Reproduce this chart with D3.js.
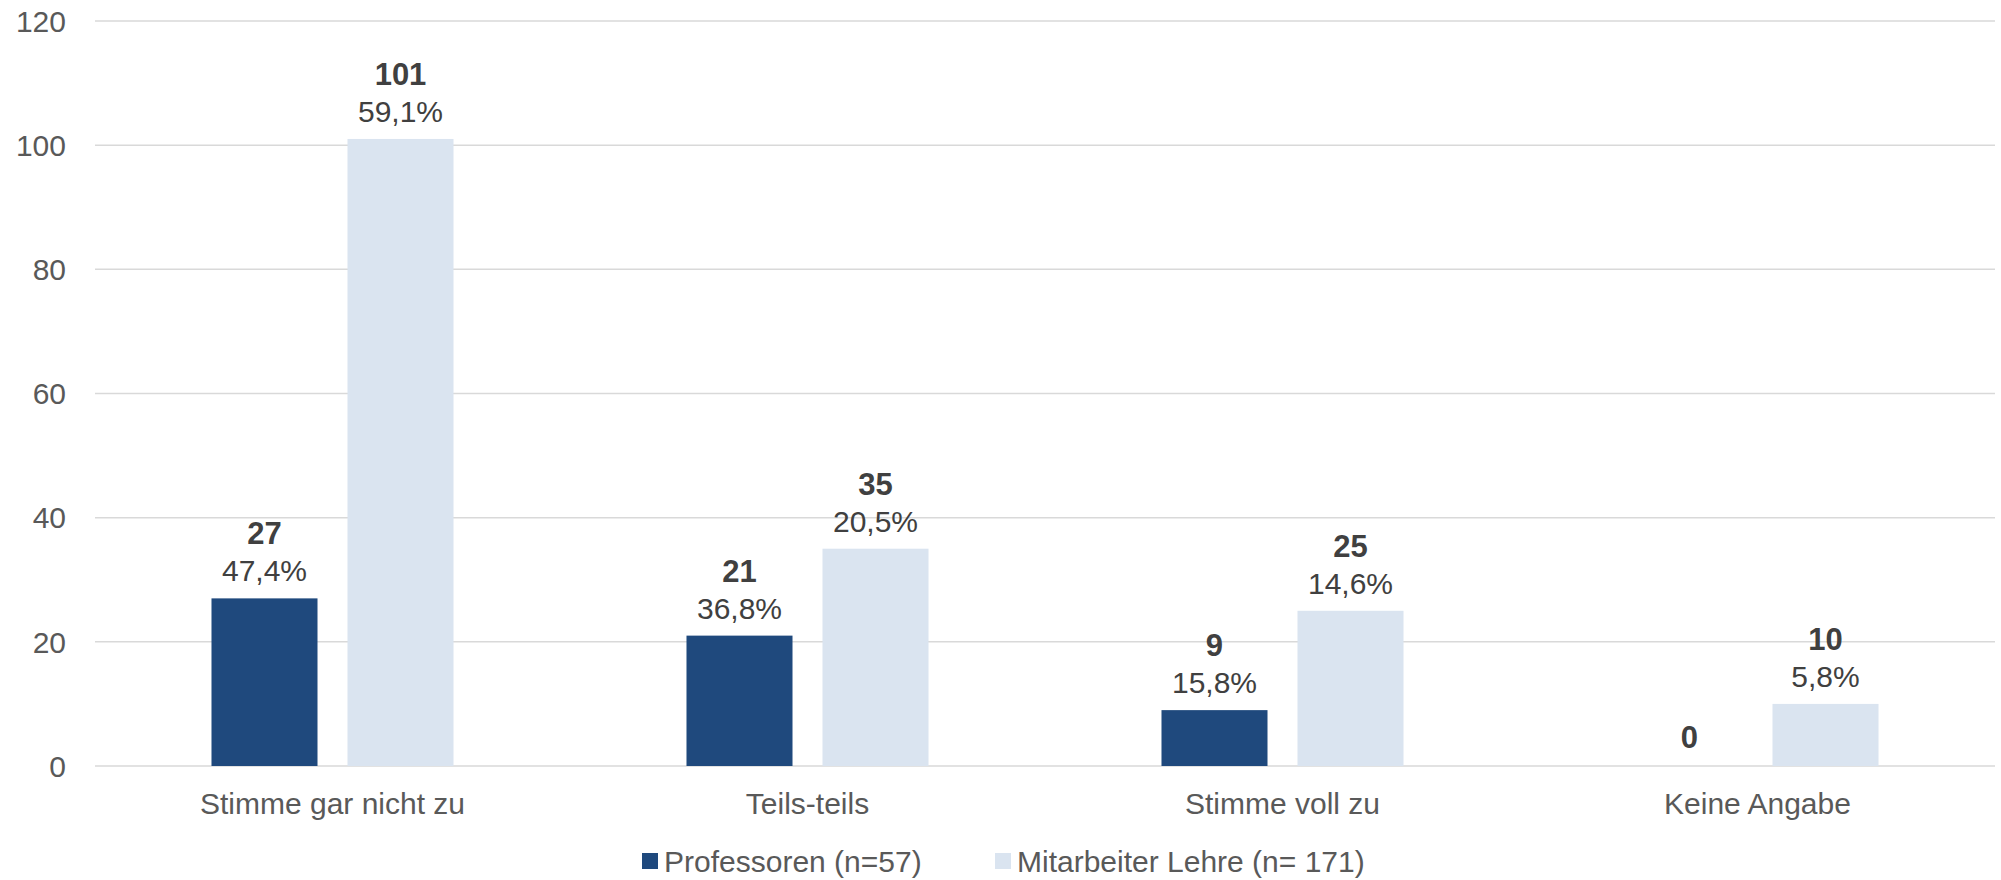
<!DOCTYPE html>
<html lang="de">
<head>
    <meta charset="UTF-8">
    <title>Zustimmung nach Gruppe</title>
    <script src="https://d3js.org/d3.v7.min.js"></script>
    <style>
        body {
            margin: 0;
            background: #ffffff;
            font-family: "Liberation Sans", Arial, sans-serif;
        }
        .tick-label {
            font-size: 30px;
            fill: #595959;
        }
        .value-label {
            font-size: 31px;
            font-weight: bold;
            fill: #404040;
            text-anchor: middle;
        }
        .pct-label {
            font-size: 30px;
            fill: #404040;
            text-anchor: middle;
        }
    </style>
</head>
<body>
    <div id="chart"></div>
    <script>
        // data
        const categories = ["Stimme gar nicht zu", "Teils-teils", "Stimme voll zu", "Keine Angabe"];
        const seriesNames = ["Professoren (n=57)", "Mitarbeiter Lehre (n= 171)"];
        const professoren = [27, 21, 9, 0];
        const mitarbeiter = [101, 35, 25, 10];
        const professorenPct = ["47,4%", "36,8%", "15,8%", ""];
        const mitarbeiterPct = ["59,1%", "20,5%", "14,6%", "5,8%"];
        const yTicks = [0, 20, 40, 60, 80, 100, 120];

        const colors = ["#1F497D", "#DAE4F0"];

        const width = 2001;
        const height = 880;
        const margin = {left: 95, right: 6, top: 21, bottom: 114};

        const series = [
            {name: seriesNames[0], values: professoren, pct: professorenPct},
            {name: seriesNames[1], values: mitarbeiter, pct: mitarbeiterPct}
        ];

        const svg = d3.select("#chart").append("svg")
            .attr("width", width)
            .attr("height", height);

        const x0 = d3.scaleBand()
            .domain(categories)
            .range([margin.left, width - margin.right])
            .paddingInner(0.4905)
            .paddingOuter(0.4905 / 2);

        const x1 = d3.scaleBand()
            .domain(seriesNames)
            .range([0, x0.bandwidth()])
            .paddingInner(0.2206);

        const y = d3.scaleLinear()
            .domain([0, 120])
            .range([height - margin.bottom, margin.top]);

        // gridlines
        svg.append("g")
            .selectAll("line")
            .data(yTicks)
            .enter().append("line")
            .attr("x1", margin.left)
            .attr("x2", width - margin.right)
            .attr("y1", d => y(d))
            .attr("y2", d => y(d))
            .style("stroke", "#D9D9D9")
            .style("stroke-width", 1.5);

        // y axis labels
        svg.append("g")
            .selectAll("text")
            .data(yTicks)
            .enter().append("text")
            .attr("class", "tick-label")
            .attr("x", 66)
            .attr("y", d => y(d))
            .attr("dy", "0.36em")
            .attr("text-anchor", "end")
            .text(d => d);

        // bars
        const groups = svg.append("g")
            .selectAll("g")
            .data(categories)
            .enter().append("g")
            .attr("transform", d => "translate(" + x0(d) + ",0)");

        groups.selectAll("rect")
            .data((d, i) => series.map((s, k) => ({name: s.name, value: s.values[i], pct: s.pct[i], k: k})))
            .enter().append("rect")
            .attr("x", d => x1(d.name))
            .attr("width", x1.bandwidth())
            .attr("y", d => y(d.value))
            .attr("height", d => y(0) - y(d.value))
            .style("fill", d => colors[d.k]);

        // value labels: count bold, percentage below it
        groups.selectAll("text.value-label")
            .data((d, i) => series.map((s, k) => ({name: s.name, value: s.values[i], pct: s.pct[i]})))
            .enter().append("text")
            .attr("class", "value-label")
            .attr("x", d => x1(d.name) + x1.bandwidth() / 2)
            .attr("y", d => d.pct ? y(d.value) - 54 : y(d.value) - 18)
            .text(d => d.value);

        groups.selectAll("text.pct-label")
            .data((d, i) => series.map((s, k) => ({name: s.name, value: s.values[i], pct: s.pct[i]})))
            .enter().append("text")
            .attr("class", "pct-label")
            .attr("x", d => x1(d.name) + x1.bandwidth() / 2)
            .attr("y", d => y(d.value) - 17)
            .text(d => d.pct);

        // category labels
        svg.append("g")
            .selectAll("text")
            .data(categories)
            .enter().append("text")
            .attr("class", "tick-label")
            .attr("x", d => x0(d) + x0.bandwidth() / 2)
            .attr("y", 814)
            .attr("text-anchor", "middle")
            .text(d => d);

        // legend
        const legendX = [642, 995];
        const legend = svg.append("g")
            .selectAll("g")
            .data(seriesNames)
            .enter().append("g")
            .attr("transform", (d, i) => "translate(" + legendX[i] + ",853)");

        legend.append("rect")
            .attr("width", 16)
            .attr("height", 16)
            .style("fill", (d, i) => colors[i]);

        legend.append("text")
            .attr("class", "tick-label")
            .attr("x", 22)
            .attr("y", 8)
            .attr("dy", "0.36em")
            .text(d => d);
    </script>
</body>
</html>
